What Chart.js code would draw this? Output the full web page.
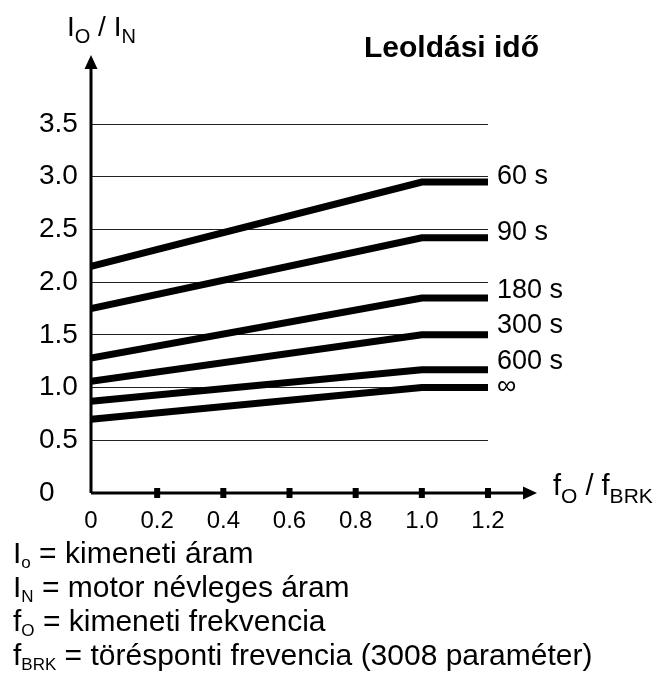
<!DOCTYPE html>
<html>
<head>
<meta charset="utf-8">
<title>Leoldási idő</title>
<script src="https://cdn.jsdelivr.net/npm/chart.js@4.4.1/dist/chart.umd.min.js"></script>
<style>
  html, body { margin: 0; padding: 0; background: #fff; }
  #wrap { width: 664px; height: 677px; }
</style>
</head>
<body>
<div id="wrap"><canvas id="tripChart" width="664" height="677"></canvas></div>
<script>
// f_O / f_BRK
const freqRatio = [0, 1.0, 1.2];
// I_O / I_N for each trip time
const curve60 = [2.15, 2.95, 2.95];
const curve90 = [1.75, 2.42, 2.42];
const curve180 = [1.28, 1.85, 1.85];
const curve300 = [1.06, 1.50, 1.50];
const curve600 = [0.87, 1.17, 1.17];
const curveInf = [0.70, 1.00, 1.00];
const tripTimes = ["60 s", "90 s", "180 s", "300 s", "600 s", "\u221e"];
const yTicks = [0, 0.5, 1.0, 1.5, 2.0, 2.5, 3.0, 3.5];
const xTicks = [0, 0.2, 0.4, 0.6, 0.8, 1.0, 1.2];

const FONT = '"Liberation Sans", Arial, Helvetica, sans-serif';
const curves = [curve60, curve90, curve180, curve300, curve600, curveInf];
const labelShift = [-5, -5, -7, -9, -8, -1];

// text with subscripts: [text, isSub]
function drawRich(ctx, parts, x, y, size, subSize, subDrop) {
    parts.forEach(([txt, sub]) => {
        ctx.font = (sub ? subSize : size) + "px " + FONT;
        ctx.fillText(txt, x, sub ? y + subDrop : y);
        x += ctx.measureText(txt).width;
    });
}

const notes = [
    [["I", false], ["o", true], [" = kimeneti áram", false]],
    [["I", false], ["N", true], [" = motor névleges áram", false]],
    [["f", false], ["O", true], [" = kimeneti frekvencia", false]],
    [["f", false], ["BRK", true], [" = törésponti frevencia (3008 paraméter)", false]]
];

const decorations = {
    id: "decorations",
    afterDraw(chart) {
        const ctx = chart.ctx;
        const area = chart.chartArea;
        const xs = chart.scales.x;
        const ys = chart.scales.y;
        ctx.save();
        ctx.fillStyle = "#000";
        ctx.strokeStyle = "#000";

        // axes with arrow heads
        ctx.lineWidth = 3;
        ctx.beginPath();
        ctx.moveTo(area.left, area.bottom);
        ctx.lineTo(area.left, area.top - 56);
        ctx.moveTo(area.left, area.bottom);
        ctx.lineTo(area.right + 36, area.bottom);
        ctx.stroke();
        ctx.beginPath();
        ctx.moveTo(area.left, area.top - 69);
        ctx.lineTo(area.left - 6.5, area.top - 55);
        ctx.lineTo(area.left + 6.5, area.top - 55);
        ctx.closePath();
        ctx.fill();
        ctx.beginPath();
        ctx.moveTo(area.right + 49, area.bottom);
        ctx.lineTo(area.right + 35, area.bottom - 6.5);
        ctx.lineTo(area.right + 35, area.bottom + 6.5);
        ctx.closePath();
        ctx.fill();

        // tick blocks on the x axis
        xTicks.forEach(v => {
            if (v === 0) return;
            const px = xs.getPixelForValue(v);
            ctx.fillRect(px - 3, area.bottom - 5, 6, 10);
        });

        // trip time labels at the end of each curve
        ctx.textBaseline = "middle";
        ctx.textAlign = "left";
        ctx.font = "27px " + FONT;
        curves.forEach((c, i) => {
            const px = xs.getPixelForValue(freqRatio[freqRatio.length - 1]) + 9;
            const py = ys.getPixelForValue(c[c.length - 1]) + labelShift[i];
            ctx.fillText(tripTimes[i], px, py);
        });

        ctx.textBaseline = "alphabetic";
        ctx.font = "bold 30px " + FONT;
        ctx.fillText("Leoldási idő", 364, 57);

        drawRich(ctx, [["I", false], ["O", true], [" / ", false], ["I", false], ["N", true]], 67, 36, 28, 20, 7);
        drawRich(ctx, [["f", false], ["O", true], [" / ", false], ["f", false], ["BRK", true]], 553, 495, 29, 21, 8);

        notes.forEach((parts, i) => {
            drawRich(ctx, parts, 13, 563 + i * 34, 30, 17, 5);
        });
        ctx.restore();
    }
};

const ctx = document.getElementById("tripChart").getContext("2d");
new Chart(ctx, {
    type: "line",
    data: {
        datasets: curves.map((c, i) => ({
            label: tripTimes[i],
            data: freqRatio.map((f, j) => ({ x: f, y: c[j] })),
            borderColor: "#000",
            borderWidth: 7,
            borderCapStyle: "butt",
            pointRadius: 0,
            tension: 0,
            fill: false
        }))
    },
    options: {
        responsive: false,
        animation: false,
        layout: { padding: { left: 39, right: 176, top: 124, bottom: 144 } },
        plugins: {
            legend: { display: false },
            tooltip: { enabled: false }
        },
        scales: {
            x: {
                type: "linear",
                min: 0,
                max: 1.2,
                afterBuildTicks: s => { s.ticks = xTicks.map(v => ({ value: v })); },
                afterFit: s => { s.height = 40; },
                grid: { display: false, drawTicks: false },
                border: { display: false },
                ticks: {
                    padding: 14,
                    color: "#000",
                    font: { family: FONT, size: 24 },
                    callback: v => v === 0 ? "0" : v.toFixed(1)
                }
            },
            y: {
                min: 0,
                max: 3.5,
                afterBuildTicks: s => { s.ticks = yTicks.map(v => ({ value: v })); },
                afterFit: s => { s.width = 52; },
                grid: { color: "#222", lineWidth: 1, drawTicks: false },
                border: { display: false },
                ticks: {
                    crossAlign: "far",
                    padding: 12,
                    color: "#000",
                    font: { family: FONT, size: 28 },
                    callback: v => v === 0 ? "0" : v.toFixed(1)
                }
            }
        }
    },
    plugins: [decorations]
});
</script>
</body>
</html>
